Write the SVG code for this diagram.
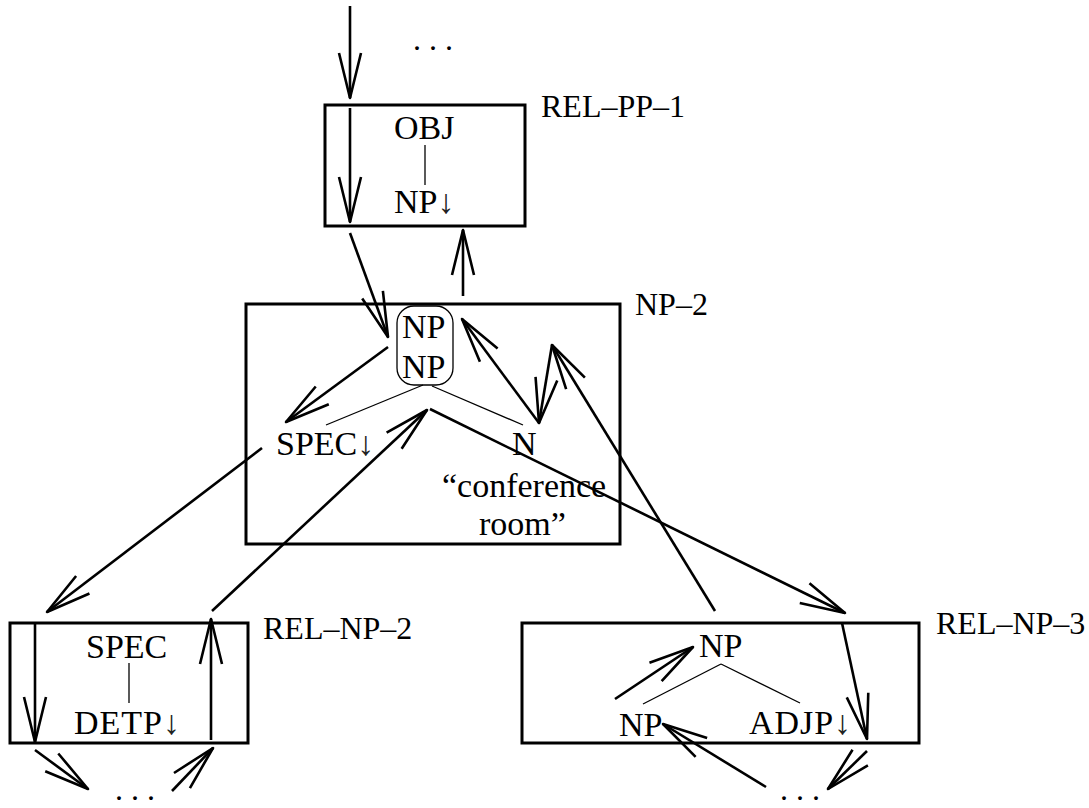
<svg xmlns="http://www.w3.org/2000/svg" width="1089" height="808" viewBox="0 0 1089 808">
<style>
  .box { fill: none; stroke: #000; stroke-width: 3; }
  .tree { fill: none; stroke: #000; stroke-width: 1.3; }
  .t { font-family: "Liberation Serif", "DejaVu Serif", serif; font-size: 34px; fill: #000; }
  .lbl { font-family: "Liberation Serif", "DejaVu Serif", serif; font-size: 32px; fill: #000; }
  .arr { fill: none; stroke: #000; stroke-width: 2.6; marker-end: url(#open); }
  .dn { fill: #222; }
</style>
<defs>
  <marker id="open" markerUnits="userSpaceOnUse" viewBox="-50 -15 54 30" markerWidth="54" markerHeight="30" refX="0" refY="0" orient="auto" overflow="visible">
    <path d="M-45,-11 L0,0 L-45,11" fill="none" stroke="#000" stroke-width="2.6" stroke-linejoin="round"/>
  </marker>
</defs>
<rect width="1089" height="808" fill="#fff"/>

<g id="ellipsis-top"><text class="lbl" x="413" y="50">. . .</text></g>
<g id="ellipsis-bottom-left"><text class="lbl" x="115" y="800">. . .</text></g>
<g id="ellipsis-bottom-right"><text class="lbl" x="780" y="800">. . .</text></g>

<g id="node-rel-pp-1">
  <rect class="box" x="325" y="105" width="200" height="121"/>
  <text class="t" x="394" y="139">OBJ</text>
  <line class="tree" x1="425" y1="145" x2="425" y2="185"/>
  <text class="t" x="394" y="213">NP<tspan class="dn">↓</tspan></text>
  <text class="lbl" x="541" y="117">REL–PP–1</text>
</g>

<g id="node-np-2">
  <rect class="box" x="246" y="304" width="374" height="240"/>
  <rect class="tree" x="397" y="306" width="56" height="79" rx="17" ry="17"/>
  <text class="t" x="402" y="338">NP</text>
  <text class="t" x="402" y="378">NP</text>
  <line class="tree" x1="423" y1="385" x2="326" y2="425"/>
  <line class="tree" x1="432" y1="386" x2="523" y2="425"/>
  <text class="t" x="276" y="455">SPEC<tspan class="dn">↓</tspan></text>
  <text class="t" x="512" y="455">N</text>
  <text class="t" x="442" y="497">“conference</text>
  <text class="t" x="479" y="535">room”</text>
  <text class="lbl" x="635" y="315">NP–2</text>
</g>

<g id="node-rel-np-2">
  <rect class="box" x="10" y="623" width="238" height="120"/>
  <text class="t" x="86" y="658">SPEC</text>
  <line class="tree" x1="129" y1="663" x2="129" y2="703"/>
  <text class="t" x="74" y="734" textLength="106">DETP<tspan class="dn">↓</tspan></text>
  <text class="lbl" x="263" y="639">REL–NP–2</text>
</g>

<g id="node-rel-np-3">
  <rect class="box" x="522" y="623" width="397" height="120"/>
  <text class="t" x="699" y="657">NP</text>
  <line class="tree" x1="721" y1="664" x2="643" y2="704"/>
  <line class="tree" x1="721" y1="664" x2="800" y2="703"/>
  <text class="t" x="619" y="736">NP</text>
  <text class="t" x="749" y="734" textLength="102">ADJP<tspan class="dn">↓</tspan></text>
  <text class="lbl" x="936" y="634">REL–NP–3</text>
</g>

<g id="connectors">
  <line class="arr" x1="350" y1="6" x2="350" y2="98"/>
  <line class="arr" x1="350" y1="108" x2="350" y2="222"/>
  <line class="arr" x1="350" y1="233" x2="388" y2="337"/>
  <line class="arr" x1="463" y1="296" x2="463" y2="230"/>
  <line class="arr" x1="388" y1="347" x2="286" y2="422"/>
  <line class="arr" x1="262" y1="448" x2="47" y2="612"/>
  <line class="arr" x1="35" y1="623" x2="35" y2="742"/>
  <line class="arr" x1="35" y1="750" x2="88" y2="789"/>
  <line class="arr" x1="172" y1="791" x2="213" y2="748"/>
  <line class="arr" x1="211" y1="740" x2="211" y2="619"/>
  <line class="arr" x1="212" y1="611" x2="427" y2="410"/>
  <line class="arr" x1="430" y1="409" x2="845" y2="613"/>
  <line class="arr" x1="842" y1="623" x2="867" y2="739"/>
  <line class="arr" x1="867" y1="751" x2="828" y2="789"/>
  <line class="arr" x1="766" y1="787" x2="663" y2="724"/>
  <line class="arr" x1="615" y1="699" x2="693" y2="647"/>
  <line class="arr" x1="715" y1="611" x2="552" y2="345"/>
  <line class="arr" x1="552" y1="345" x2="539" y2="423"/>
  <line class="arr" x1="539" y1="423" x2="462" y2="319"/>
</g>
</svg>
